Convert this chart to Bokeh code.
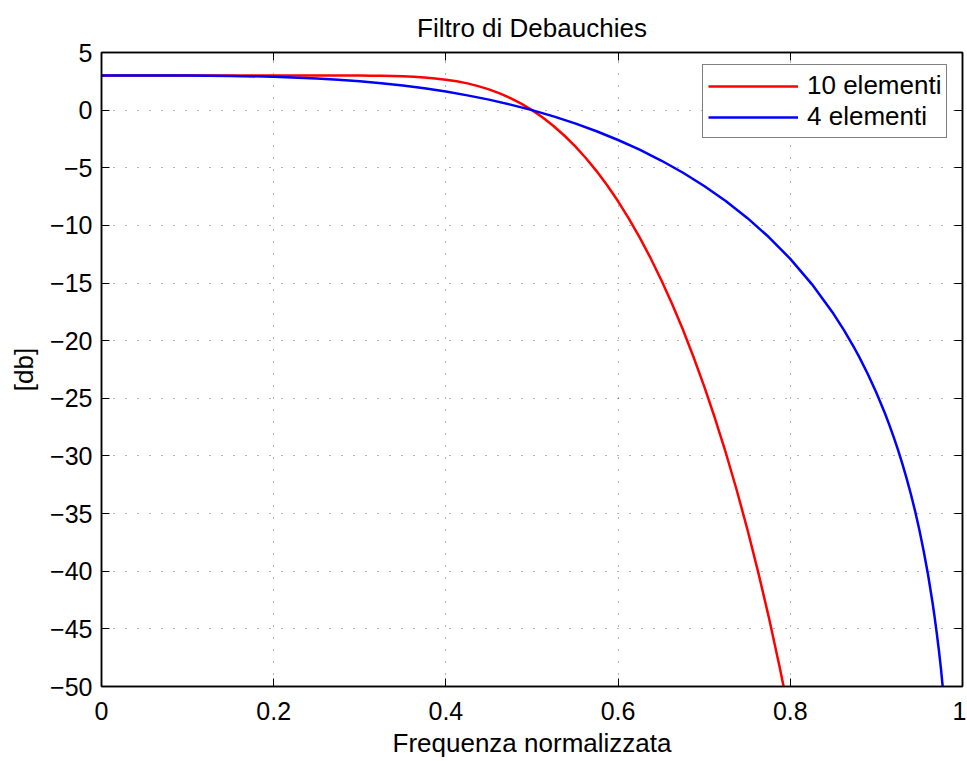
from bokeh.plotting import figure
from bokeh.models import (Range1d, FixedTicker, CustomJSTickFormatter, LinearAxis,
                          Legend, LegendItem)
from bokeh.embed import file_html
from bokeh.resources import INLINE

# Data (normalized frequency, dB)
freq_10 = [0.0, 0.1, 0.2, 0.25, 0.275, 0.3, 0.3125, 0.325, 0.3375, 0.35, 0.3625,
           0.375, 0.3875, 0.4, 0.4125, 0.425, 0.4375, 0.45, 0.4625, 0.475, 0.4875,
           0.5, 0.5125, 0.525, 0.5375, 0.55, 0.5625, 0.575, 0.5875, 0.6, 0.6125,
           0.625, 0.6375, 0.65, 0.6625, 0.675, 0.6875, 0.7, 0.7125, 0.725, 0.7375,
           0.75, 0.7625, 0.775, 0.7875, 0.8]
db_10 = [3.01, 3.01, 3.01, 3.01, 3.01, 3.00, 2.99, 2.98, 2.96, 2.94, 2.89,
         2.84, 2.75, 2.64, 2.50, 2.32, 2.08, 1.80, 1.45, 1.04, 0.56,
         0.00, -0.64, -1.38, -2.20, -3.13, -4.15, -5.29, -6.54, -7.91, -9.41,
         -11.04, -12.80, -14.71, -16.77, -18.98, -21.39, -23.96, -26.73, -29.70, -32.89,
         -36.32, -40.01, -43.98, -48.26, -52.88]

freq_4 = [0.0, 0.05, 0.1, 0.15, 0.2, 0.25, 0.275, 0.3, 0.325, 0.35, 0.375, 0.4,
          0.425, 0.45, 0.475, 0.5, 0.525, 0.55, 0.575, 0.6, 0.625, 0.65, 0.675,
          0.7, 0.725, 0.75, 0.775, 0.8, 0.825, 0.85, 0.8625, 0.875, 0.88, 0.89,
          0.9, 0.91, 0.915, 0.92, 0.925, 0.93, 0.935, 0.94, 0.945, 0.95, 0.955,
          0.96, 0.965, 0.9675, 0.97, 0.9725, 0.975, 0.98]
db_4 = [3.01, 3.01, 3.00, 2.97, 2.90, 2.75, 2.64, 2.50, 2.34, 2.13, 1.89, 1.61,
        1.28, 0.91, 0.48, 0.00, -0.54, -1.15, -1.83, -2.59, -3.43, -4.37, -5.41,
        -6.58, -7.88, -9.35, -11.01, -12.90, -15.09, -17.65, -19.11, -20.72, -21.41, -22.89,
        -24.52, -26.32, -27.30, -28.34, -29.45, -30.64, -31.92, -33.30, -34.80, -36.45, -38.28,
        -40.31, -42.63, -43.91, -45.30, -46.81, -48.47, -52.34]

x_ticks = [0, 0.2, 0.4, 0.6, 0.8, 1.0]
y_ticks = [-50, -45, -40, -35, -30, -25, -20, -15, -10, -5, 0, 5]

title_text = "Filtro di Debauchies"
x_label = "Frequenza normalizzata"
y_label = "[db]"
series_labels = ["10 elementi", "4 elementi"]

FONT = "Liberation Sans"

p = figure(width=966, height=760, output_backend="svg", toolbar_location=None,
           x_range=Range1d(0, 1), y_range=Range1d(-50, 5),
           min_border_left=101, min_border_right=4, min_border_top=51,
           min_border_bottom=71, title=title_text)

p.title.text_font = FONT
p.title.text_font_size = "26px"
p.title.text_font_style = "normal"
p.title.align = "center"
p.title.text_color = "black"
p.title.standoff = 20

p.outline_line_color = "black"
p.outline_line_width = 1.5

fmt_x = CustomJSTickFormatter(code="return parseFloat(tick.toFixed(2)).toString();")
fmt_y = CustomJSTickFormatter(code="return tick < 0 ? '\u2212' + Math.abs(tick) : tick.toString();")
fmt_none = CustomJSTickFormatter(code="return '';")

for ax, ticks, fmt in ((p.xaxis[0], x_ticks, fmt_x), (p.yaxis[0], y_ticks, fmt_y)):
    ax.ticker = FixedTicker(ticks=ticks)
    ax.formatter = fmt
    ax.major_tick_in = 8
    ax.major_tick_out = 0
    ax.minor_tick_line_color = None
    ax.axis_line_width = 1.5
    ax.major_tick_line_width = 1
    ax.axis_line_color = "black"
    ax.major_tick_line_color = "black"
    ax.major_label_text_font = FONT
    ax.major_label_text_font_size = "25px"
    ax.major_label_text_color = "black"
    ax.axis_label_text_font = FONT
    ax.axis_label_text_font_size = "26px"
    ax.axis_label_text_font_style = "normal"
    ax.axis_label_text_color = "black"

p.xaxis[0].axis_label = x_label
p.xaxis[0].major_label_standoff = 15
p.xaxis[0].axis_label_standoff = 5
p.yaxis[0].axis_label = y_label
p.yaxis[0].major_label_standoff = 9
p.yaxis[0].axis_label_standoff = 8

# mirror axes (box) with inward ticks, no labels
top = LinearAxis(ticker=FixedTicker(ticks=x_ticks), formatter=fmt_none,
                 major_tick_in=8, major_tick_out=0,
                 minor_tick_line_color=None, major_label_standoff=0,
                 axis_line_width=1.5, axis_line_color="black")
right = LinearAxis(ticker=FixedTicker(ticks=y_ticks), formatter=fmt_none,
                   major_tick_in=8, major_tick_out=0,
                   minor_tick_line_color=None, major_label_standoff=0,
                   axis_line_width=1.5, axis_line_color="black")
p.add_layout(top, "above")
p.add_layout(right, "right")

for g in (p.xgrid[0], p.ygrid[0]):
    g.grid_line_color = "black"
    g.grid_line_alpha = 0.6
    g.grid_line_dash = "1 11"
    g.grid_line_width = 1
p.xgrid[0].ticker = FixedTicker(ticks=x_ticks)
p.ygrid[0].ticker = FixedTicker(ticks=y_ticks)

r1 = p.line(freq_10, db_10, line_color="#ff0000", line_width=2.5)
r2 = p.line(freq_4, db_4, line_color="#0000ff", line_width=2.5)

legend = Legend(items=[LegendItem(label=series_labels[0], renderers=[r1]),
                       LegendItem(label=series_labels[1], renderers=[r2])],
                location=(601, 548))
legend.label_text_font = FONT
legend.label_text_font_size = "26px"
legend.label_text_line_height = 1.0
legend.label_text_color = "black"
legend.border_line_color = "black"
legend.border_line_width = 1.5
legend.padding = 5
legend.spacing = 0
legend.glyph_width = 90
legend.glyph_height = 24
legend.label_height = 24
legend.label_standoff = 9
legend.margin = 0
p.add_layout(legend, "center")

p.background_fill_color = "white"
p.border_fill_color = "white"

open("out.html", "w").write(file_html(p, INLINE))
